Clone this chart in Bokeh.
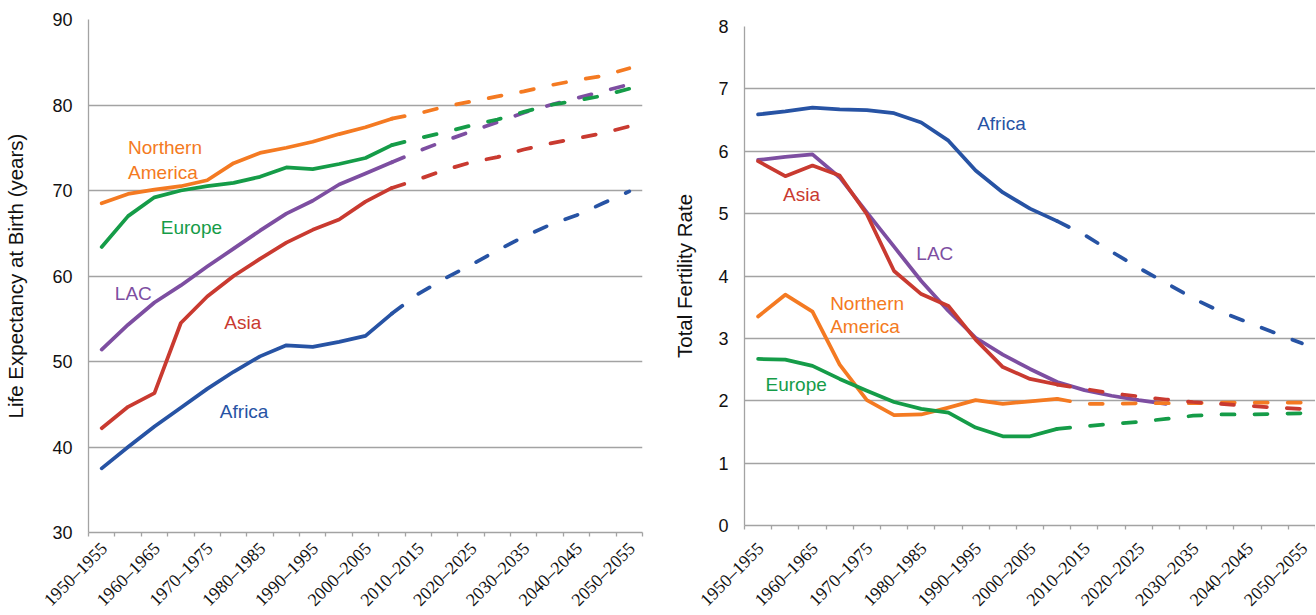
import math
from bokeh.plotting import figure
from bokeh.models import Range1d, FixedTicker, Label, ColumnDataSource
from bokeh.layouts import row, column
from bokeh.embed import file_html
from bokeh.resources import INLINE

# ---------------- data ----------------
periods = ["1950–1955", "1955–1960", "1960–1965", "1965–1970", "1970–1975",
           "1975–1980", "1980–1985", "1985–1990", "1990–1995", "1995–2000",
           "2000–2005", "2005–2010", "2010–2015", "2015–2020", "2020–2025",
           "2025–2030", "2030–2035", "2035–2040", "2040–2045", "2045–2050",
           "2050–2055"]
LABEL_EVERY = 2
LAST_OBSERVED = 11  # index of 2005–2010, last estimate before projections

# Life expectancy at birth (years)
le_africa = [37.5, 40.0, 42.4, 44.6, 46.8, 48.8, 50.6, 51.9, 51.7, 52.3, 53.0,
             55.6, 57.9, 59.7, 61.3, 63.0, 64.6, 66.0, 67.1, 68.5, 69.9]
le_asia = [42.2, 44.7, 46.3, 54.5, 57.6, 60.0, 62.0, 63.9, 65.4, 66.6, 68.7,
           70.3, 71.3, 72.4, 73.3, 73.9, 74.8, 75.5, 76.1, 76.7, 77.5]
le_europe = [63.4, 67.0, 69.2, 70.0, 70.5, 70.9, 71.6, 72.7, 72.5, 73.1, 73.8,
             75.3, 76.1, 76.8, 77.6, 78.3, 79.2, 80.0, 80.5, 81.1, 81.9]
le_lac = [51.4, 54.3, 56.9, 58.9, 61.1, 63.2, 65.3, 67.3, 68.8, 70.7, 72.0,
          73.3, 74.6, 75.8, 76.9, 78.0, 79.1, 80.0, 80.8, 81.6, 82.4]
le_namerica = [68.5, 69.6, 70.1, 70.5, 71.2, 73.2, 74.4, 75.0, 75.7, 76.6, 77.4,
               78.4, 79.0, 79.8, 80.4, 81.0, 81.6, 82.3, 82.9, 83.4, 84.3]

# Total fertility rate
tfr_africa = [6.59, 6.64, 6.70, 6.67, 6.66, 6.61, 6.46, 6.17, 5.69, 5.34, 5.08,
              4.88, 4.66, 4.39, 4.13, 3.89, 3.64, 3.43, 3.26, 3.09, 2.92]
tfr_asia = [5.84, 5.60, 5.77, 5.61, 4.99, 4.08, 3.71, 3.52, 2.98, 2.54, 2.35,
            2.26, 2.19, 2.12, 2.07, 2.02, 1.98, 1.95, 1.92, 1.89, 1.87]
tfr_europe = [2.67, 2.66, 2.56, 2.35, 2.16, 1.98, 1.87, 1.81, 1.57, 1.43, 1.43,
              1.55, 1.59, 1.63, 1.66, 1.71, 1.76, 1.78, 1.78, 1.79, 1.80]
tfr_lac = [5.86, 5.91, 5.95, 5.58, 5.02, 4.47, 3.92, 3.44, 3.01, 2.74, 2.51,
           2.30, 2.17, 2.08, 2.01, 1.95]
tfr_namerica = [3.35, 3.70, 3.43, 2.58, 2.01, 1.77, 1.78, 1.89, 2.01, 1.95, 1.99,
                2.03, 1.95, 1.95, 1.96, 1.96, 1.96, 1.97, 1.97, 1.97, 1.97]

le_ticks = [30, 40, 50, 60, 70, 80, 90]
tfr_ticks = [0, 1, 2, 3, 4, 5, 6, 7, 8]

# ---------------- style ----------------
C_AFRICA = "#2753A4"
C_ASIA = "#C93A30"
C_EUROPE = "#159C48"
C_LAC = "#7D4EA1"
C_NAM = "#F47A22"
GRID = "#A3A3A3"
TXT = "#111111"
FONT = "Liberation Sans"
LW = 3.75
DASH = "13 20"
N = len(periods)
CHART_H = 543      # chart figure height (frame + top/bottom borders)
OVERLAP = 8        # strip is pulled up over the chart's bottom border (transparent)
STRIP_H = 80       # strip holding the slanted period labels
LABEL_DROP = 10    # label anchor, px below the strip's top edge


def series(p, values, color, solid_end=LAST_OBSERVED, dashed=True):
    xs = list(range(len(values)))
    p.line(xs[:solid_end + 1], values[:solid_end + 1], line_width=LW, line_color=color,
           line_cap="round", line_join="round")
    if dashed and len(values) > solid_end + 1:
        p.line(xs[solid_end:], values[solid_end:], line_width=LW, line_color=color,
               line_dash=DASH, line_cap="round", line_join="round")


def make_fig(width, ymin, ymax, yticks, ylabel, mb_left, mb_top, mb_bottom, mb_right,
             ylabel_standoff):
    p = figure(width=width, height=CHART_H, x_range=Range1d(-0.5, N - 0.5),
               y_range=Range1d(ymin, ymax), output_backend="svg", toolbar_location=None,
               min_border_left=mb_left, min_border_top=mb_top,
               min_border_bottom=mb_bottom, min_border_right=mb_right)
    p.outline_line_color = None
    p.background_fill_color = "white"
    p.border_fill_color = "white"
    p.xgrid.visible = False
    p.ygrid.grid_line_color = GRID
    p.ygrid.grid_line_width = 1.3

    # x axis: only tick marks at the category boundaries
    xa = p.xaxis[0]
    xa.ticker = FixedTicker(ticks=[], minor_ticks=[i - 0.5 for i in range(N + 1)])
    xa.minor_tick_in = 0
    xa.minor_tick_out = 4
    xa.minor_tick_line_color = GRID
    xa.minor_tick_line_width = 1.3
    xa.major_tick_in = 0
    xa.major_tick_out = 0
    xa.major_label_standoff = 0
    xa.axis_line_color = GRID
    xa.axis_line_width = 1.3

    ya = p.yaxis[0]
    ya.ticker = FixedTicker(ticks=yticks, minor_ticks=[])
    ya.major_tick_in = 0
    ya.major_tick_out = 0
    ya.minor_tick_in = 0
    ya.minor_tick_out = 0
    ya.axis_line_color = GRID
    ya.axis_line_width = 1.3
    ya.major_label_text_font = FONT
    ya.major_label_text_font_size = "18px"
    ya.major_label_text_color = TXT
    ya.major_label_standoff = 16
    ya.axis_label = ylabel
    ya.axis_label_text_font = FONT
    ya.axis_label_text_font_size = "20.5px"
    ya.axis_label_text_font_style = "normal"
    ya.axis_label_text_color = TXT
    ya.axis_label_standoff = ylabel_standoff
    return p


def label_strip(width, frame_left, frame_width):
    """Transparent strip under a chart, on the chart's category scale, with slanted period labels."""
    cw = frame_width / N
    xr = Range1d(-0.5 - frame_left / cw, -0.5 + (width - frame_left) / cw)
    s = figure(width=width, height=STRIP_H, x_range=xr, y_range=Range1d(-STRIP_H, 0),
               output_backend="svg", toolbar_location=None,
               x_axis_location=None, y_axis_location=None,
               min_border_left=0, min_border_right=0, min_border_top=0, min_border_bottom=0,
               margin=(-OVERLAP, 0, 0, 0))
    s.outline_line_color = None
    s.xgrid.visible = False
    s.ygrid.visible = False
    s.background_fill_color = None
    s.border_fill_color = None
    idx = list(range(0, N, LABEL_EVERY))
    src = ColumnDataSource(dict(x=idx, y=[-LABEL_DROP] * len(idx),
                                text=[periods[i] for i in idx]))
    s.text(x="x", y="y", text="text", source=src, angle=math.pi / 4, x_offset=2.5,
           text_align="right", text_baseline="middle", text_font=FONT,
           text_font_size="18px", text_color=TXT)
    return s


def add_label(p, x, y, text, color, align="center"):
    p.add_layout(Label(x=x, y=y, text=text, text_color=color, text_font=FONT,
                       text_font_size="19px", text_align=align, text_baseline="middle"))


# ---------------- left: life expectancy ----------------
W1, L1, R1 = 655, 88, 13
p1 = make_fig(W1, 30, 90, le_ticks, "Life Expectancy at Birth (years)",
              L1, 19, 11, R1, 22)
series(p1, le_lac, C_LAC)
series(p1, le_namerica, C_NAM)
series(p1, le_europe, C_EUROPE)
series(p1, le_asia, C_ASIA)
series(p1, le_africa, C_AFRICA)

add_label(p1, 1.0, 75.0, "Northern", C_NAM, "left")
add_label(p1, 1.0, 72.15, "America", C_NAM, "left")
add_label(p1, 3.4, 65.7, "Europe", C_EUROPE)
add_label(p1, 1.2, 57.9, "LAC", C_LAC)
add_label(p1, 5.35, 54.6, "Asia", C_ASIA)
add_label(p1, 5.4, 44.2, "Africa", C_AFRICA)
s1 = label_strip(W1, L1, W1 - L1 - R1)

# ---------------- right: total fertility ----------------
W2, L2, R2 = 660, 89, 0
p2 = make_fig(W2, 0, 8, tfr_ticks, "Total Fertility Rate",
              L2, 26, 18, R2, 19)
series(p2, tfr_lac, C_LAC, solid_end=len(tfr_lac) - 1, dashed=False)
series(p2, tfr_namerica, C_NAM)
series(p2, tfr_europe, C_EUROPE)
series(p2, tfr_asia, C_ASIA)
series(p2, tfr_africa, C_AFRICA)

add_label(p2, 8.95, 6.44, "Africa", C_AFRICA)
add_label(p2, 1.6, 5.30, "Asia", C_ASIA)
add_label(p2, 6.5, 4.36, "LAC", C_LAC)
add_label(p2, 2.65, 3.56, "Northern", C_NAM, "left")
add_label(p2, 2.65, 3.19, "America", C_NAM, "left")
add_label(p2, 1.4, 2.26, "Europe", C_EUROPE)
s2 = label_strip(W2, L2, W2 - L2 - R2)

layout = row(column(column(p1), column(s1)), column(column(p2), column(s2)))
open("out.html", "w").write(file_html(layout, INLINE))
